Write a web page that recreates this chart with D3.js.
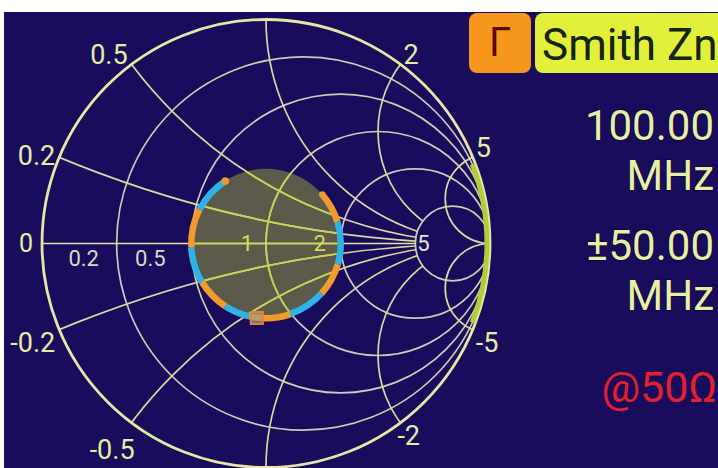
<!DOCTYPE html>
<html><head><meta charset="utf-8">
<script src="https://cdn.jsdelivr.net/npm/d3@7"></script>
<style>html,body{margin:0;padding:0;background:#fff;} svg{display:block;}</style>
</head><body>
<svg id="c" width="718" height="468"></svg>
<script>
// ---------------- data ----------------
const resistanceValues = [0.2, 0.5, 1, 2, 5];
const reactanceValues = [0.2, 0.5, 1, 2, 5, -0.2, -0.5, -1, -2, -5];
const resistanceTickValues = [0, 0.2, 0.5, 1, 2, 5];
const resistanceTickLabels = ["0", "0.2", "0.5", "1", "2", "5"];
const reactanceTickValues = [0.5, 0.2, 2, 5, -0.2, -0.5, -2, -5];
const reactanceTickLabels = ["0.5", "0.2", "2", "5", "-0.2", "-0.5", "-2", "-5"];
const vswrValue = 2;
// trace: reflection coefficient magnitude / phase (deg) at segment boundaries
const tracePhase = [123, 153, 183, 211, 237, 257, 289, 318, 344, 377, 401];
const traceMag   = [0.333, 0.333, 0.334, 0.334, 0.333, 0.334, 0.333, 0.333, 0.334, 0.333, 0.333];
const traceSeries = ["b", "o", "b", "o", "b", "o", "b", "o", "b", "o"];
const markerPhase = 263;
const markerMag = 0.335;
const infoLines = ["100.00", "MHz", "±50.00", "MHz"];
const refLabel = "@50Ω";
const badgeLeft = "Γ";
const badgeRight = "Smith Zn";

// ---------------- layout ----------------
const W = 718, H = 468;
const cx = 266, cy = 243.5, R = 224;
const FONT = "Roboto, 'Noto Sans', sans-serif";
const svg = d3.select("#c");
svg.append("rect").attr("width", W).attr("height", H).attr("fill", "#ffffff");
svg.append("rect").attr("x", 4).attr("y", 12).attr("width", W - 4).attr("height", H - 12).attr("fill", "#1a0c5c");

const gx = d3.scaleLinear().domain([-1, 1]).range([cx - R, cx + R]);
const gy = d3.scaleLinear().domain([-1, 1]).range([cy + R, cy - R]);
const len = d => gx(d) - gx(0);
function gamma(r, x) { const den = (r + 1) * (r + 1) + x * x; return [(r * r + x * x - 1) / den, 2 * x / den]; }

const defs = svg.append("defs");
defs.append("clipPath").attr("id", "unit").append("circle").attr("cx", cx).attr("cy", cy).attr("r", R);
const vswrG = (vswrValue - 1) / (vswrValue + 1);
defs.append("clipPath").attr("id", "vswr").append("circle").attr("cx", cx).attr("cy", cy).attr("r", len(vswrG));
const m = defs.append("mask").attr("id", "out5").attr("maskUnits", "userSpaceOnUse")
  .attr("x", 0).attr("y", 0).attr("width", W).attr("height", H);
m.append("rect").attr("width", W).attr("height", H).attr("fill", "#fff");
const rMax = d3.max(resistanceValues);
m.append("circle").attr("cx", gx(rMax / (1 + rMax))).attr("cy", gy(0)).attr("r", len(1 / (1 + rMax))).attr("fill", "#000");

// VSWR disc
svg.append("circle").attr("cx", cx).attr("cy", cy).attr("r", len(vswrG)).attr("fill", "#5c5b4b");

function drawGrid(g, cRes, cReact, cAxis, w) {
  g.selectAll(".rc").data(resistanceValues).join("circle")
    .attr("cx", r => gx(r / (1 + r))).attr("cy", gy(0)).attr("r", r => len(1 / (1 + r)))
    .attr("fill", "none").attr("stroke", cRes).attr("stroke-width", w);
  const gc = g.append("g").attr("clip-path", "url(#unit)");
  const gIn = gc.append("g").attr("mask", "url(#out5)");
  gIn.selectAll(".xc").data(reactanceValues.filter(v => Math.abs(v) < rMax)).join("circle")
    .attr("cx", gx(1)).attr("cy", v => gy(1 / v)).attr("r", v => len(1 / Math.abs(v)))
    .attr("fill", "none").attr("stroke", cReact).attr("stroke-width", w);
  gc.selectAll(".xf").data(reactanceValues.filter(v => Math.abs(v) >= rMax)).join("circle")
    .attr("cx", gx(1)).attr("cy", v => gy(1 / v)).attr("r", v => len(1 / Math.abs(v)))
    .attr("fill", "none").attr("stroke", cReact).attr("stroke-width", w);
  g.append("line").attr("x1", gx(-1)).attr("x2", gx(gamma(rMax, 0)[0])).attr("y1", gy(0)).attr("y2", gy(0))
    .attr("stroke", cAxis).attr("stroke-width", w);
}
drawGrid(svg.append("g"), "#cfcbb6", "#dbd7a0", "#e4e2a8", 1.7);
drawGrid(svg.append("g").attr("clip-path", "url(#vswr)"), "#cad24a", "#cad24a", "#d6da5a", 1.7);

// outer circle
svg.append("circle").attr("cx", cx).attr("cy", cy).attr("r", R).attr("fill", "none")
  .attr("stroke", "#e8e6a6").attr("stroke-width", 2.8);
const band = d3.path();
band.arc(cx, cy, R - 3, -21 * Math.PI / 180, 21 * Math.PI / 180, false);
svg.append("path").attr("d", band.toString()).attr("fill", "none").attr("stroke", "#b4cc3a").attr("stroke-width", 5);

// trace
const colors = { b: "#2fb2e6", o: "#f29b2c" };
const tg = svg.append("g");
traceSeries.forEach((s, i) => {
  const p = d3.path();
  const rr = len((traceMag[i] + traceMag[i + 1]) / 2);
  p.arc(cx, cy, rr, -tracePhase[i] * Math.PI / 180, -tracePhase[i + 1] * Math.PI / 180, true);
  tg.append("path").attr("d", p.toString()).attr("fill", "none").attr("stroke", colors[s])
    .attr("stroke-width", 6.5).attr("stroke-linecap", "butt");
});
function polar(mag, ph) { return [gx(mag * Math.cos(ph * Math.PI / 180)), gy(mag * Math.sin(ph * Math.PI / 180))]; }
const pStart = polar(traceMag[0], tracePhase[0]);
tg.append("circle").attr("cx", pStart[0]).attr("cy", pStart[1]).attr("r", 3.8).attr("fill", colors.o);
const pEnd = polar(traceMag[traceMag.length - 1], tracePhase[tracePhase.length - 1]);
tg.append("circle").attr("cx", pEnd[0]).attr("cy", pEnd[1]).attr("r", 3.25).attr("fill", colors.o);
const mk = polar(markerMag, markerPhase);
svg.append("rect").attr("x", mk[0] - 6).attr("y", mk[1] - 6).attr("width", 12).attr("height", 12)
  .attr("fill", "#a09e86").attr("fill-opacity", 0.7).attr("stroke", "#e0843a").attr("stroke-width", 2);

// resistance labels
const axisLabelOffset = { "0": [-16, 0, "#e8eca0", 25], "0.2": [-33, 15, "#d9d9c6", 22], "0.5": [-41, 15, "#d9d9c6", 22],
  "1": [-19, 0, "#d8dc58", 22], "2": [-21, 0, "#d8dc58", 22], "5": [8, 0, "#e6e6d6", 22] };
resistanceTickValues.forEach((r, i) => {
  const lab = resistanceTickLabels[i];
  const o = axisLabelOffset[lab];
  svg.append("text").attr("x", gx(gamma(r, 0)[0]) + o[0]).attr("y", gy(0) + o[1])
    .attr("text-anchor", "middle").attr("dominant-baseline", "central")
    .attr("font-family", FONT).attr("font-size", o[3]).attr("fill", o[2]).text(lab);
});
// reactance labels
const labelNudge = { "0.2": [0, 8], "-0.5": [7, 14], "-2": [-6, 0] };
reactanceTickValues.forEach((xv, i) => {
  const lab = reactanceTickLabels[i];
  const gm = gamma(0, xv);
  const px = gx(gm[0]), py = gy(gm[1]);
  const left = px < cx, top = py < cy;
  const n = labelNudge[lab] || [0, 0];
  svg.append("text").attr("x", (left ? px - 4 : px + 3) + n[0]).attr("y", (top ? py : py + 22) + n[1])
    .attr("text-anchor", left ? "end" : "start")
    .attr("font-family", FONT).attr("font-size", 27).attr("fill", "#e6eca2").text(lab);
});

// right panel
svg.append("rect").attr("x", 469).attr("y", 13).attr("width", 62).attr("height", 60).attr("rx", 8).attr("fill", "#f7961d");
svg.append("text").attr("x", 500).attr("y", 56).attr("text-anchor", "middle").attr("font-family", FONT)
  .attr("font-size", 40).attr("fill", "#5a0a0a").text(badgeLeft);
svg.append("rect").attr("x", 535).attr("y", 13).attr("width", 200).attr("height", 60).attr("rx", 8).attr("fill", "#e2f03c");
svg.append("text").attr("x", 542).attr("y", 60).attr("font-family", FONT)
  .attr("font-size", 44).attr("fill", "#15240c").text(badgeRight);

const infoY = [140, 190, 260, 310];
infoLines.forEach((t, i) => {
  svg.append("text").attr("x", 714).attr("y", infoY[i]).attr("text-anchor", "end").attr("font-family", FONT)
    .attr("font-size", 42).attr("fill", "#e6eeaa").attr("stroke", "#0c0630").attr("stroke-width", 1.5)
    .attr("paint-order", "stroke").text(t);
});
svg.append("text").attr("x", 717).attr("y", 402).attr("text-anchor", "end").attr("font-family", FONT)
  .attr("font-size", 43).attr("fill", "#e3202e").text(refLabel);
</script>
</body></html>
